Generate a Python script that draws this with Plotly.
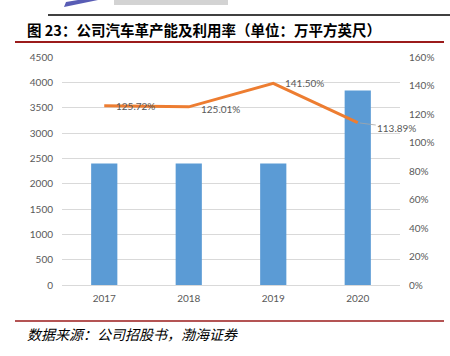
import plotly.graph_objects as go

years = ["2017", "2018", "2019", "2020"]
capacity = [2400, 2400, 2400, 3840]
utilization = [125.72, 125.01, 141.50, 113.89]
util_labels = ["125.72%", "125.01%", "141.50%", "113.89%"]
left_ticks = [0, 500, 1000, 1500, 2000, 2500, 3000, 3500, 4000, 4500]
right_ticks = [0, 20, 40, 60, 80, 100, 120, 140, 160]

title_text = "图 23：公司汽车革产能及利用率（单位：万平方英尺）"
source_text = "数据来源：公司招股书，渤海证券"

W, H = 450, 356
L, R, T, B = 62, 50, 57, 71
pw, ph = W - L - R, H - T - B

def px(x):
    return (x - L) / pw

def py(y):
    return (H - B - y) / ph

tick_font = dict(family="Lato, Liberation Sans, sans-serif", size=10, color="#595959")

fig = go.Figure()
fig.add_trace(go.Bar(
    x=years, y=capacity, marker=dict(color="#5B9BD5", line=dict(width=0)),
    yaxis="y", showlegend=False, hoverinfo="skip",
))
fig.add_trace(go.Scatter(
    x=years, y=utilization, mode="lines", line=dict(color="#ED7D31", width=3),
    yaxis="y2", showlegend=False, hoverinfo="skip",
))

annotations = []
label_shift = [(10, 0), (10, -2), (10, 0), None]
for i, (v, lab) in enumerate(zip(utilization, util_labels)):
    # category axis: annotation x is the category index
    if label_shift[i] is not None:
        dx, dy = label_shift[i]
        annotations.append(dict(
            x=i, y=v, xref="x", yref="y2", text=lab, showarrow=False,
            xanchor="left", yanchor="middle", xshift=dx, yshift=dy,
            font=tick_font,
        ))
    else:
        annotations.append(dict(
            x=i, y=v, xref="x", yref="y2", text=lab, showarrow=True,
            arrowhead=0, arrowwidth=0.8, arrowcolor="#a6a6a6", standoff=2,
            ax=39, ay=5, font=tick_font,
        ))

annotations.append(dict(
    x=px(25), y=py(29), xref="paper", yref="paper", text="<b>" + title_text + "</b>",
    showarrow=False, xanchor="left", yanchor="middle",
    font=dict(family="Noto Sans CJK SC", size=14.5, color="#000000"),
))
annotations.append(dict(
    x=px(25), y=py(334), xref="paper", yref="paper", text="<i>" + source_text + "</i>",
    showarrow=False, xanchor="left", yanchor="middle",
    font=dict(family="Noto Sans CJK SC", size=14, color="#000000"),
))

shapes = [
    dict(type="line", xref="paper", yref="paper", x0=px(48), x1=px(450), y0=py(15), y1=py(15),
         line=dict(color="#000000", width=1.5)),
    dict(type="line", xref="paper", yref="paper", x0=px(15), x1=px(444), y0=py(42), y1=py(42),
         line=dict(color="#9B1B1B", width=2)),
    dict(type="line", xref="paper", yref="paper", x0=px(15), x1=px(444), y0=py(321), y1=py(321),
         line=dict(color="#9B1B1B", width=1.5)),
    # blurred logo fragment at top
    dict(type="path", xref="paper", yref="paper",
         path=f"M {px(64)} {py(7)} L {px(98)} {py(0)} L {px(90)} {py(-2)} L {px(66)} {py(2)} Z",
         fillcolor="#3b3fa8", line=dict(width=0), opacity=0.85),
    dict(type="rect", xref="paper", yref="paper", x0=px(114), x1=px(228), y0=py(5), y1=py(0),
         fillcolor="#c8c8c8", line=dict(width=0), opacity=0.8),
]

fig.update_layout(
    width=W, height=H, margin=dict(l=L, r=R, t=T, b=B, autoexpand=False),
    paper_bgcolor="white", plot_bgcolor="white",
    bargap=0.69,
    xaxis=dict(type="category", range=[-0.5, len(years) - 0.5], tickfont=tick_font,
               showgrid=False, showline=False, ticks="", ticklabelstandoff=6,
               fixedrange=True),
    yaxis=dict(range=[0, 4500], tickvals=left_ticks, tickfont=tick_font,
               showgrid=True, gridcolor="#d9d9d9", gridwidth=1, zeroline=True,
               zerolinecolor="#d9d9d9", zerolinewidth=1, ticks="", ticklabelstandoff=8),
    yaxis2=dict(range=[0, 160], tickvals=right_ticks, ticktext=[f"{t}%" for t in right_ticks],
                overlaying="y", side="right", tickfont=tick_font, showgrid=False,
                zeroline=False, ticks="", ticklabelstandoff=8),
    annotations=annotations, shapes=shapes,
)

fig.write_html(
    "out.html",
    config={"displayModeBar": False},
    post_script="document.body.style.margin='0';document.body.style.overflow='hidden';",
)
